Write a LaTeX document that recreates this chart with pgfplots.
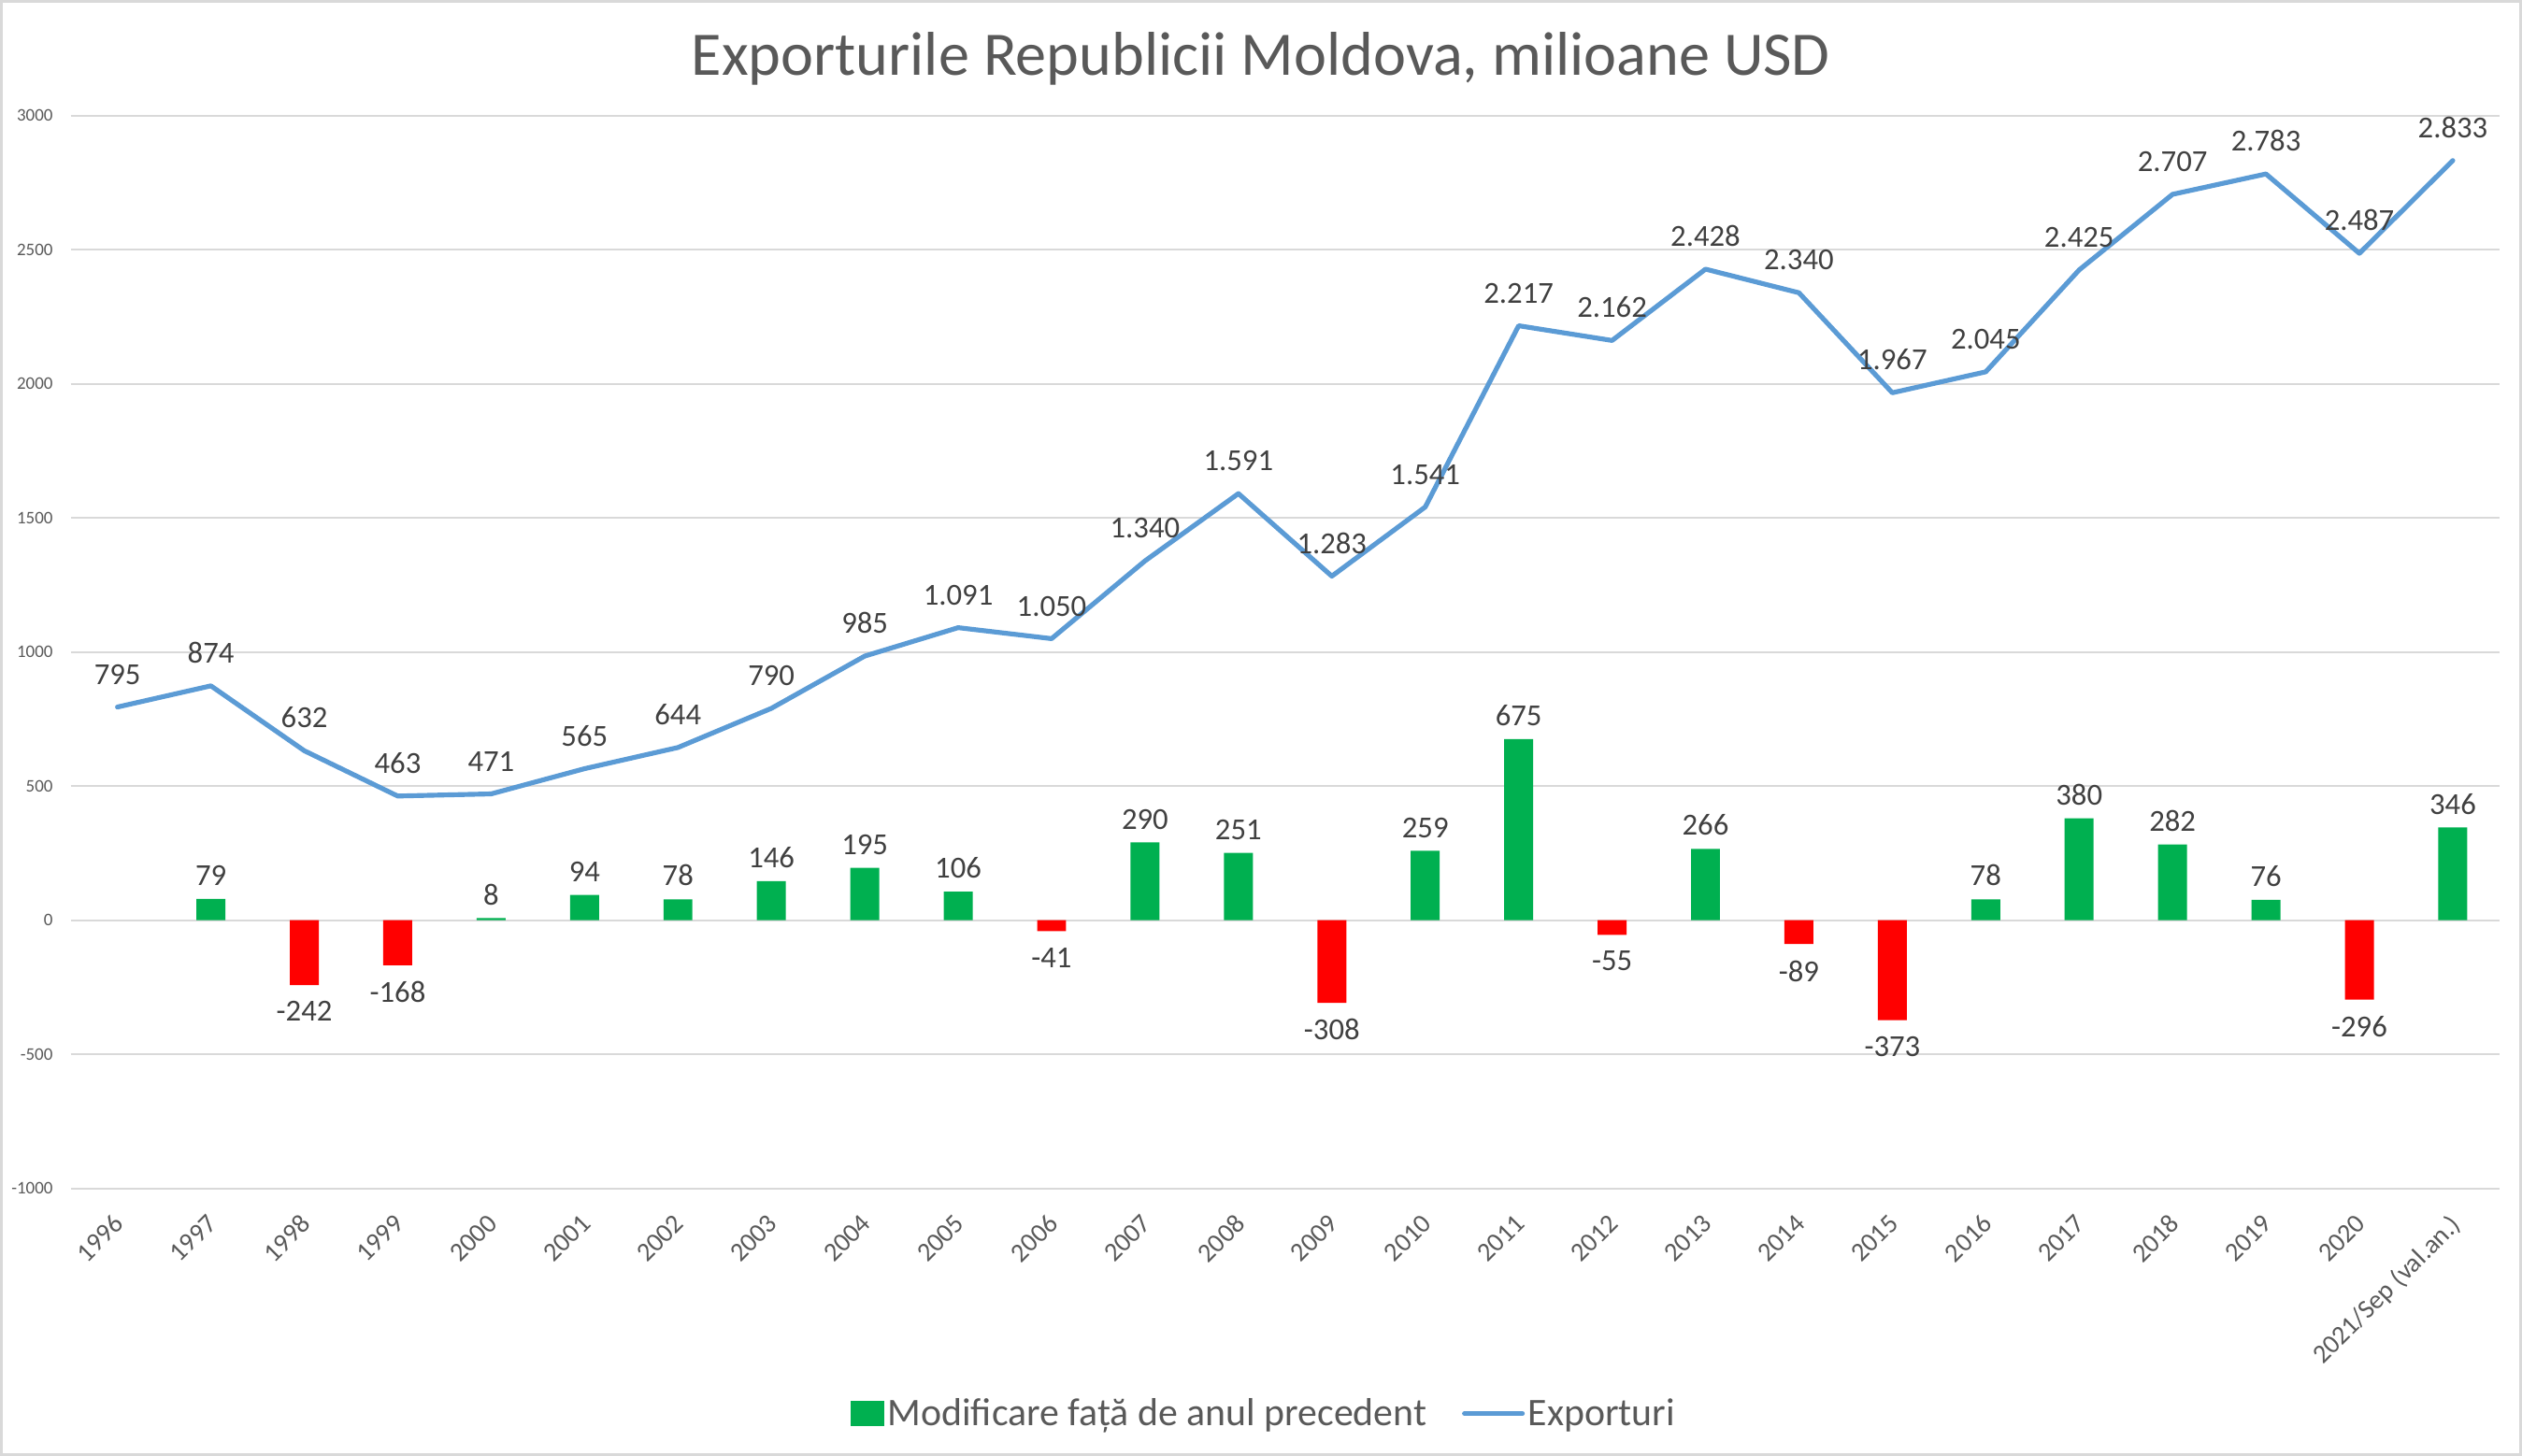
\documentclass[border=0pt]{standalone}
\usepackage{fontspec}
\setmainfont{Carlito}
\usepackage{pgfplots}
\pgfplotsset{compat=1.18}
\definecolor{barg}{HTML}{00B050}
\definecolor{barr}{HTML}{FF0000}
\definecolor{lineb}{HTML}{5B9BD5}
\definecolor{txt}{HTML}{595959}
\definecolor{lbl}{HTML}{404040}
\definecolor{gridc}{HTML}{D9D9D9}
\pgfkeys{/pgf/number format/assume math mode=true}
\begin{document}
\begin{tikzpicture}
\begin{axis}[
  at={(0pt,0pt)}, anchor=south west,
  scale only axis, width=1510pt, height=667pt,
  xmin=-0.5, xmax=25.5, ymin=-1000, ymax=3000,
  ytick={-1000,-500,0,500,1000,1500,2000,2500,3000},
  xtick={0,...,25},
  xticklabels={1996,1997,1998,1999,2000,2001,2002,2003,2004,2005,2006,2007,2008,2009,2010,2011,2012,2013,2014,2015,2016,2017,2018,2019,2020,2021/Sep (val.an.)},
  axis line style={draw=none},
  major tick length=0pt,
  ymajorgrids, grid style={gridc, line width=1.2pt},
  yticklabel style={font=\fontsize{11}{13}\selectfont, text=txt, anchor=east, inner sep=0pt, xshift=-11pt, /pgf/number format/1000 sep={}},
  xticklabel style={font=\fontsize{16.5}{19}\selectfont, text=txt, inner sep=0pt, xshift=-3pt, yshift=-15pt, rotate=45, anchor=north east},
  clip=false,
  /pgf/number format/1000 sep={.},
  nodes near coords style={font=\fontsize{19}{22}\selectfont, text=lbl},
  legend style={at={(0.4915,-0.21)}, anchor=center, draw=none, fill=none,
    legend columns=2, font=\fontsize{24.3}{28}\selectfont, text=txt,
    nodes={inner sep=2pt},
    /tikz/every even column/.append style={column sep=20pt}},
]
\addplot[ybar, bar width=18pt, bar shift=0pt, fill=barg, draw=none,
  nodes near coords, nodes near coords style={inner sep=8pt},
  legend image code/.code={\fill[barg] (0pt,-8pt) rectangle (21pt,8pt);}]
  coordinates {(1,79) (4,8) (5,94) (6,78) (7,146) (8,195) (9,106) (11,290) (12,251) (14,259) (15,675) (17,266) (20,78) (21,380) (22,282) (23,76) (25,346)};
\addlegendentry{Modificare față de anul precedent}
\addplot[ybar, bar width=18pt, bar shift=0pt, fill=barr, draw=none, forget plot,
  nodes near coords, nodes near coords style={inner sep=10pt, anchor=north}]
  coordinates {(2,-242) (3,-168) (10,-41) (13,-308) (16,-55) (18,-89) (19,-373) (24,-296)};
\addplot[lineb, line width=3pt, line join=round, line cap=round, mark=none,
  nodes near coords, nodes near coords style={anchor=south, inner sep=0pt, yshift=12.5pt},
  legend image code/.code={\draw[lineb, line width=3pt, line cap=round] (0pt,0pt) -- (36pt,0pt);}]
  coordinates {(0,795) (1,874) (2,632) (3,463) (4,471) (5,565) (6,644) (7,790) (8,985) (9,1091) (10,1050) (11,1340) (12,1591) (13,1283) (14,1541) (15,2217) (16,2162) (17,2428) (18,2340) (19,1967) (20,2045) (21,2425) (22,2707) (23,2783) (24,2487) (25,2833)};
\addlegendentry{Exporturi}
\end{axis}
\node[anchor=base, text=txt, font=\fontsize{38.5}{44}\selectfont, inner sep=0pt] at (740pt,692pt) {Exporturile Republicii Moldova, milioane USD};
\pgfresetboundingbox
\draw[gridc, line width=1.5pt] (-43.25pt,-165.65pt) rectangle (1523.25pt,738.25pt);
\path[use as bounding box] (-44pt,-166.4pt) rectangle (1524pt,739pt);
\end{tikzpicture}
\end{document}
